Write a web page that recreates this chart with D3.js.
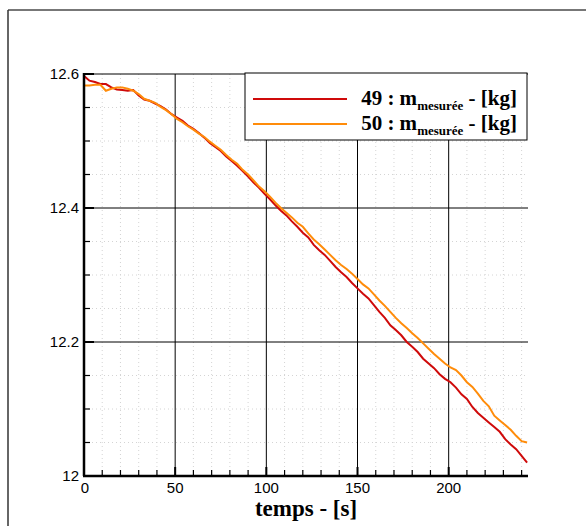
<!DOCTYPE html>
<html><head><meta charset="utf-8">
<script src="https://cdn.jsdelivr.net/npm/d3@7"></script>
<style>body{margin:0;background:#fff}svg{display:block}</style>
</head><body>
<svg id="c" width="586" height="526"></svg>
<script>
const times = d3.range(0, 244, 3);
const series49 = [12.597,12.590,12.588,12.585,12.585,12.580,12.577,12.576,12.575,12.576,
12.568,12.562,12.560,12.556,12.552,12.547,12.540,12.535,12.530,12.523,
12.518,12.512,12.505,12.497,12.491,12.485,12.477,12.470,12.463,12.455,
12.447,12.438,12.430,12.421,12.413,12.404,12.396,12.389,12.380,12.372,
12.363,12.356,12.345,12.337,12.330,12.321,12.312,12.304,12.297,12.288,
12.280,12.272,12.265,12.255,12.245,12.236,12.225,12.218,12.210,12.200,
12.193,12.185,12.175,12.168,12.161,12.152,12.145,12.140,12.132,12.122,
12.115,12.103,12.094,12.087,12.080,12.073,12.066,12.055,12.047,12.040,
12.030,12.020];
const series50 = [12.583,12.583,12.584,12.584,12.575,12.578,12.580,12.580,12.578,12.575,
12.570,12.563,12.560,12.557,12.551,12.546,12.540,12.533,12.528,12.522,
12.517,12.511,12.506,12.499,12.493,12.487,12.479,12.472,12.466,12.457,
12.450,12.441,12.432,12.425,12.417,12.408,12.400,12.393,12.386,12.378,
12.372,12.362,12.353,12.346,12.338,12.330,12.322,12.315,12.309,12.302,
12.294,12.286,12.280,12.271,12.262,12.254,12.245,12.236,12.228,12.221,
12.213,12.206,12.198,12.190,12.182,12.175,12.168,12.162,12.158,12.150,
12.140,12.133,12.123,12.112,12.104,12.090,12.083,12.076,12.069,12.060,
12.052,12.050];
const xTicks = [0,50,100,150,200];
const yTicks = [12,12.2,12.4,12.6];
const yTickLabels = ["12","12.2","12.4","12.6"];
const seriesNames = ["49","50"];

const svg = d3.select("#c");
const x = d3.scaleLinear().domain([0,243.5]).range([84,528]);
const y = d3.scaleLinear().domain([12,12.6]).range([476,74]);

// outer frame
svg.append("line").attr("x1",8).attr("x2",586).attr("y1",10).attr("y2",10).attr("stroke","#777").attr("stroke-width",2);
svg.append("line").attr("x1",8).attr("x2",8).attr("y1",10).attr("y2",526).attr("stroke","#333").attr("stroke-width",1.5);

// minor dotted grid
const xMinor = d3.range(10,244,10).filter(v=>v%50!==0);
const yMinor = d3.range(12.05,12.6,0.05).filter(v=>Math.abs(v*5-Math.round(v*5))>1e-6);
svg.append("g").selectAll("line").data(xMinor).join("line")
  .attr("x1",d=>x(d)).attr("x2",d=>x(d)).attr("y1",y(12.6)).attr("y2",y(12))
  .attr("stroke","#d4d4d4").attr("stroke-width",1).attr("stroke-dasharray","1,3");
svg.append("g").selectAll("line").data(yMinor).join("line")
  .attr("x1",x(0)).attr("x2",x(243.5)).attr("y1",d=>y(d)).attr("y2",d=>y(d))
  .attr("stroke","#d4d4d4").attr("stroke-width",1).attr("stroke-dasharray","1,3");

// major grid
svg.append("g").selectAll("line").data(xTicks.filter(d=>d>0)).join("line")
  .attr("x1",d=>x(d)).attr("x2",d=>x(d)).attr("y1",y(12.6)).attr("y2",y(12))
  .attr("stroke","#000").attr("stroke-width",1);
svg.append("g").selectAll("line").data(yTicks.filter(d=>d>12)).join("line")
  .attr("x1",x(0)).attr("x2",x(243.5)).attr("y1",d=>y(d)).attr("y2",d=>y(d))
  .attr("stroke","#000").attr("stroke-width",1);

// data lines
const line = d3.line().x((d,i)=>x(times[i])).y(d=>y(d));
svg.append("path").datum(series49).attr("d",line).attr("fill","none").attr("stroke","#cf0a0a").attr("stroke-width",2);
svg.append("path").datum(series50).attr("d",line).attr("fill","none").attr("stroke","#ff8c0a").attr("stroke-width",2);

// axes
const gx = svg.append("g").attr("transform",`translate(0,${y(12)})`);
gx.append("line").attr("x1",x(0)-1).attr("x2",x(243.5)).attr("y1",0).attr("y2",0).attr("stroke","#000").attr("stroke-width",2.5);
gx.selectAll("line.t").data(d3.range(0,244,10)).join("line").attr("class","t")
  .attr("x1",d=>x(d)).attr("x2",d=>x(d)).attr("y1",0).attr("y2",d=>d%50===0?-9:-6)
  .attr("stroke","#000").attr("stroke-width",d=>d%50===0?2:1.2);
gx.selectAll("text").data(xTicks).join("text")
  .attr("x",d=>x(d)+(d===0?1:0)).attr("y",17).attr("text-anchor","middle")
  .attr("font-family","'Liberation Sans',Arial,sans-serif").attr("font-size",15).text(d=>d);

const gy = svg.append("g").attr("transform",`translate(${x(0)},0)`);
gy.append("line").attr("x1",0).attr("x2",0).attr("y1",y(12.6)-1).attr("y2",y(12)).attr("stroke","#000").attr("stroke-width",2.5);
const yAll = d3.range(0,13).map(i=>12+i*0.05);
gy.selectAll("line.t").data(yAll).join("line").attr("class","t")
  .attr("x1",0).attr("x2",(d,i)=>i%4===0?10:6).attr("y1",d=>y(d)).attr("y2",d=>y(d))
  .attr("stroke","#000").attr("stroke-width",(d,i)=>i%4===0?2:1.2);
gy.selectAll("text").data(yTicks).join("text")
  .attr("x",-5).attr("y",d=>y(d)+5).attr("text-anchor","end")
  .attr("font-family","'Liberation Sans',Arial,sans-serif").attr("font-size",15).text((d,i)=>yTickLabels[i]);

// x label
svg.append("text").attr("x",x(121.75)).attr("y",516).attr("text-anchor","middle")
  .attr("font-family","'Liberation Serif','Times New Roman',serif").attr("font-weight","bold").attr("font-size",23)
  .text("temps - [s]");

// legend
const lg = svg.append("g");
lg.append("rect").attr("x",245).attr("y",73).attr("width",282).attr("height",67).attr("fill","#fff").attr("stroke","#000").attr("stroke-width",1);
const colors = ["#cf0a0a","#ff8c0a"];
seriesNames.forEach((n,i)=>{
  const yy = 99 + i*25;
  lg.append("line").attr("x1",253).attr("x2",347).attr("y1",yy).attr("y2",yy).attr("stroke",colors[i]).attr("stroke-width",2);
  const t = lg.append("text").attr("x",517).attr("y",yy+6).attr("text-anchor","end")
    .attr("font-family","'Liberation Serif','Times New Roman',serif").attr("font-weight","bold").attr("font-size",21);
  t.append("tspan").text(n+" : m");
  t.append("tspan").attr("font-size",13).attr("dy",5).text("mesurée");
  t.append("tspan").attr("dy",-5).text(" - [kg]");
});
</script>
</body></html>
